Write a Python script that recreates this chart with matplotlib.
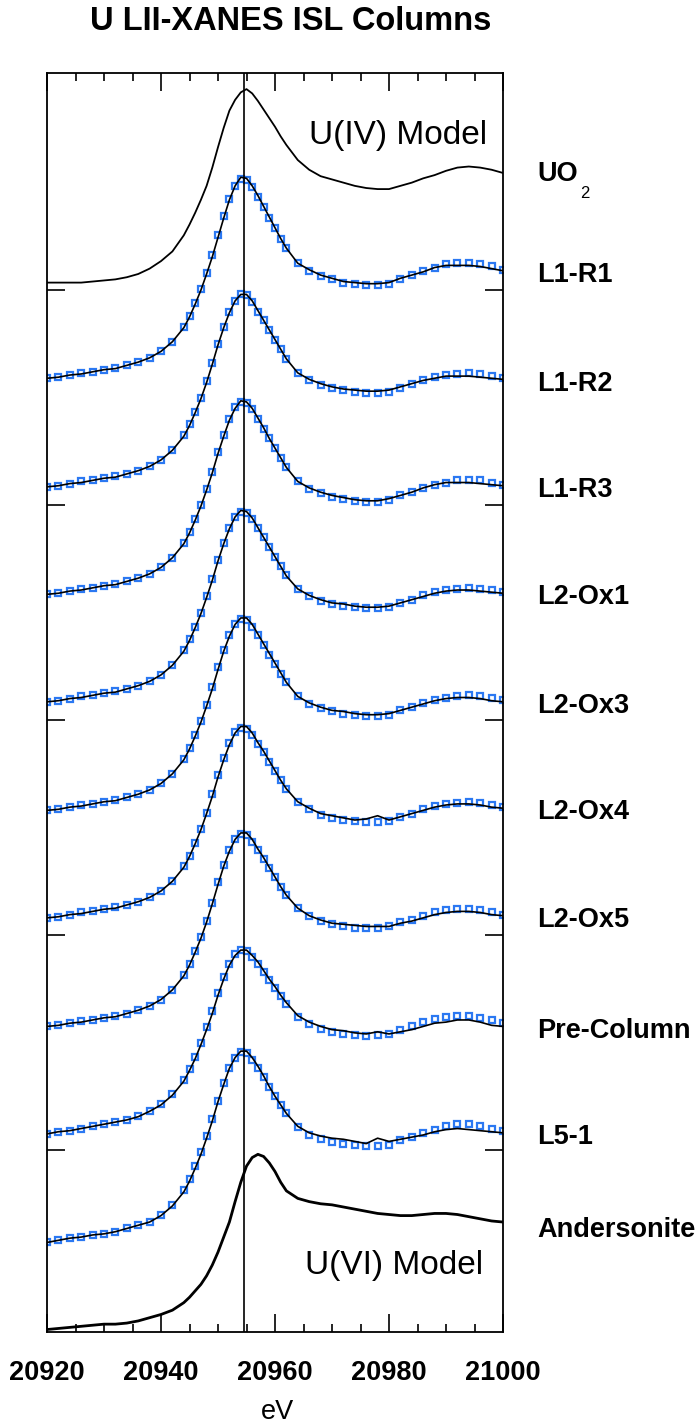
import numpy as np
import matplotlib
matplotlib.use('Agg')
import matplotlib.pyplot as plt
from matplotlib.ticker import MultipleLocator
from matplotlib.transforms import blended_transform_factory

plt.rcParams['font.family'] = ['Liberation Sans', 'DejaVu Sans']

# energy grid (eV)
E = [20920, 20922, 20924, 20926, 20928, 20930, 20932, 20934, 20936, 20938,
     20940, 20942, 20944, 20945, 20946, 20947, 20948, 20949, 20950, 20951,
     20952, 20953, 20954, 20955, 20956, 20957, 20958, 20959, 20960, 20961,
     20962, 20964, 20966, 20968, 20970, 20972, 20974, 20976, 20978, 20980,
     20982, 20984, 20986, 20988, 20990, 20992, 20994, 20996, 20998, 21000]

# reference spectra (normalised, pre-edge = 0)
uo2 = [0.00, 0.00, 0.00, 0.00, 0.01, 0.02, 0.03, 0.05, 0.08, 0.13,
       0.20, 0.29, 0.44, 0.54, 0.65, 0.77, 0.90, 1.07, 1.26, 1.44,
       1.60, 1.70, 1.77, 1.80, 1.76, 1.69, 1.61, 1.53, 1.45, 1.36,
       1.28, 1.14, 1.05, 0.99, 0.96, 0.93, 0.90, 0.88, 0.87, 0.87,
       0.90, 0.93, 0.97, 1.00, 1.04, 1.07, 1.08, 1.07, 1.05, 1.02]
andersonite = [0.00, 0.01, 0.02, 0.03, 0.04, 0.05, 0.05, 0.06, 0.08, 0.11,
               0.14, 0.18, 0.25, 0.30, 0.36, 0.42, 0.50, 0.60, 0.72, 0.86,
               1.00, 1.19, 1.37, 1.52, 1.60, 1.63, 1.61, 1.55, 1.47, 1.37,
               1.29, 1.22, 1.19, 1.17, 1.16, 1.14, 1.12, 1.10, 1.08, 1.07,
               1.06, 1.06, 1.07, 1.08, 1.08, 1.07, 1.05, 1.03, 1.01, 1.00]

samples = ['L1-R1', 'L1-R2', 'L1-R3', 'L2-Ox1', 'L2-Ox3', 'L2-Ox4',
           'L2-Ox5', 'Pre-Column', 'L5-1']

data = {
    'L1-R1': [0.00, 0.01, 0.03, 0.04, 0.06, 0.08, 0.09, 0.12, 0.15, 0.19,
              0.25, 0.34, 0.47, 0.57, 0.69, 0.82, 0.97, 1.13, 1.31, 1.49,
              1.66, 1.79, 1.87, 1.86, 1.79, 1.70, 1.60, 1.50, 1.40, 1.30,
              1.21, 1.07, 1.01, 0.96, 0.93, 0.90, 0.89, 0.88, 0.88, 0.89,
              0.93, 0.96, 0.99, 1.03, 1.05, 1.05, 1.05, 1.04, 1.02, 1.00],
    'L1-R2': [0.00, 0.01, 0.03, 0.04, 0.06, 0.08, 0.09, 0.12, 0.15, 0.19,
              0.25, 0.34, 0.47, 0.57, 0.69, 0.82, 0.97, 1.14, 1.32, 1.48,
              1.62, 1.73, 1.79, 1.79, 1.73, 1.64, 1.55, 1.46, 1.37, 1.28,
              1.19, 1.06, 1.00, 0.96, 0.93, 0.91, 0.90, 0.89, 0.89, 0.90,
              0.93, 0.96, 0.99, 1.01, 1.03, 1.03, 1.03, 1.02, 1.01, 1.00],
    'L1-R3': [0.00, 0.01, 0.03, 0.04, 0.06, 0.08, 0.09, 0.12, 0.15, 0.19,
              0.25, 0.34, 0.47, 0.57, 0.69, 0.82, 0.97, 1.13, 1.31, 1.47,
              1.62, 1.73, 1.80, 1.79, 1.73, 1.64, 1.55, 1.45, 1.36, 1.27,
              1.18, 1.05, 0.99, 0.95, 0.92, 0.90, 0.88, 0.87, 0.87, 0.89,
              0.92, 0.95, 0.99, 1.02, 1.04, 1.04, 1.04, 1.03, 1.02, 1.01],
    'L2-Ox1': [0.00, 0.01, 0.03, 0.04, 0.06, 0.08, 0.09, 0.12, 0.15, 0.19,
               0.25, 0.34, 0.47, 0.57, 0.69, 0.82, 0.97, 1.13, 1.31, 1.47,
               1.61, 1.72, 1.78, 1.77, 1.71, 1.62, 1.53, 1.44, 1.35, 1.26,
               1.17, 1.05, 0.99, 0.95, 0.92, 0.91, 0.89, 0.88, 0.88, 0.89,
               0.92, 0.95, 0.98, 1.01, 1.03, 1.04, 1.04, 1.03, 1.02, 1.01],
    'L2-Ox3': [0.00, 0.01, 0.03, 0.04, 0.06, 0.08, 0.09, 0.12, 0.15, 0.19,
               0.25, 0.34, 0.47, 0.57, 0.69, 0.82, 0.97, 1.13, 1.31, 1.48,
               1.62, 1.73, 1.79, 1.79, 1.73, 1.64, 1.55, 1.46, 1.37, 1.28,
               1.19, 1.06, 1.00, 0.96, 0.93, 0.92, 0.90, 0.89, 0.89, 0.90,
               0.93, 0.96, 0.99, 1.02, 1.04, 1.05, 1.05, 1.04, 1.02, 1.01],
    'L2-Ox4': [0.00, 0.01, 0.03, 0.04, 0.06, 0.08, 0.09, 0.12, 0.15, 0.19,
               0.25, 0.34, 0.47, 0.57, 0.69, 0.82, 0.97, 1.13, 1.31, 1.47,
               1.61, 1.72, 1.78, 1.78, 1.72, 1.63, 1.55, 1.46, 1.37, 1.28,
               1.20, 1.08, 1.02, 0.97, 0.95, 0.93, 0.91, 0.92, 0.95, 0.91,
               0.94, 0.97, 1.00, 1.03, 1.05, 1.06, 1.06, 1.05, 1.03, 1.02],
    'L2-Ox5': [0.00, 0.01, 0.03, 0.04, 0.06, 0.08, 0.09, 0.12, 0.15, 0.19,
               0.25, 0.34, 0.47, 0.57, 0.69, 0.82, 0.97, 1.14, 1.32, 1.49,
               1.63, 1.74, 1.80, 1.80, 1.74, 1.65, 1.57, 1.48, 1.39, 1.30,
               1.22, 1.10, 1.03, 0.99, 0.96, 0.95, 0.94, 0.93, 0.93, 0.93,
               0.96, 0.98, 1.01, 1.04, 1.06, 1.07, 1.07, 1.06, 1.04, 1.03],
    'Pre-Column': [0.00, 0.02, 0.03, 0.05, 0.07, 0.09, 0.11, 0.13, 0.16, 0.21,
                   0.27, 0.36, 0.49, 0.59, 0.70, 0.83, 0.97, 1.12, 1.29, 1.44,
                   1.57, 1.66, 1.71, 1.71, 1.66, 1.60, 1.52, 1.44, 1.37, 1.29,
                   1.22, 1.10, 1.04, 1.00, 0.97, 0.96, 0.94, 0.93, 0.95, 0.93,
                   0.95, 0.97, 1.00, 1.03, 1.04, 1.06, 1.06, 1.04, 1.01, 1.00],
    'L5-1': [0.00, 0.02, 0.04, 0.05, 0.07, 0.08, 0.10, 0.13, 0.16, 0.19,
             0.25, 0.34, 0.47, 0.57, 0.69, 0.82, 0.97, 1.13, 1.31, 1.47,
             1.62, 1.72, 1.78, 1.78, 1.72, 1.64, 1.55, 1.45, 1.36, 1.28,
             1.20, 1.08, 1.02, 0.99, 0.97, 0.96, 0.94, 0.92, 0.97, 0.94,
             0.96, 0.98, 1.00, 1.03, 1.05, 1.06, 1.05, 1.04, 1.03, 1.02],
}

# linear-combination fits
fits = {
    'L1-R1': [0.00, 0.01, 0.03, 0.05, 0.06, 0.08, 0.10, 0.12, 0.15, 0.19,
              0.25, 0.34, 0.48, 0.58, 0.70, 0.83, 0.98, 1.15, 1.33, 1.51,
              1.67, 1.79, 1.85, 1.84, 1.78, 1.69, 1.59, 1.49, 1.40, 1.30,
              1.21, 1.07, 1.00, 0.95, 0.92, 0.89, 0.88, 0.87, 0.87, 0.88,
              0.92, 0.96, 1.00, 1.03, 1.06, 1.07, 1.07, 1.06, 1.04, 1.01],
    'L1-R2': [0.00, 0.01, 0.03, 0.05, 0.06, 0.08, 0.10, 0.12, 0.15, 0.19,
              0.25, 0.34, 0.48, 0.58, 0.70, 0.83, 0.98, 1.15, 1.33, 1.49,
              1.63, 1.73, 1.79, 1.78, 1.72, 1.63, 1.55, 1.46, 1.37, 1.28,
              1.19, 1.06, 0.99, 0.95, 0.92, 0.90, 0.88, 0.87, 0.87, 0.88,
              0.92, 0.96, 0.99, 1.02, 1.04, 1.05, 1.06, 1.05, 1.03, 1.01],
    'L1-R3': [0.00, 0.01, 0.03, 0.05, 0.06, 0.08, 0.10, 0.12, 0.15, 0.19,
              0.25, 0.34, 0.48, 0.58, 0.70, 0.83, 0.98, 1.14, 1.32, 1.48,
              1.63, 1.74, 1.79, 1.78, 1.72, 1.63, 1.54, 1.45, 1.36, 1.27,
              1.18, 1.05, 0.98, 0.94, 0.91, 0.89, 0.87, 0.86, 0.86, 0.88,
              0.92, 0.95, 0.99, 1.02, 1.04, 1.06, 1.06, 1.06, 1.04, 1.02],
    'L2-Ox1': [0.00, 0.01, 0.03, 0.05, 0.06, 0.08, 0.10, 0.12, 0.15, 0.19,
               0.25, 0.34, 0.48, 0.58, 0.70, 0.83, 0.98, 1.14, 1.32, 1.48,
               1.62, 1.72, 1.77, 1.76, 1.70, 1.62, 1.53, 1.44, 1.35, 1.26,
               1.18, 1.05, 0.98, 0.94, 0.91, 0.89, 0.88, 0.87, 0.87, 0.88,
               0.92, 0.95, 0.99, 1.02, 1.04, 1.05, 1.06, 1.05, 1.04, 1.02],
    'L2-Ox3': [0.00, 0.01, 0.03, 0.05, 0.06, 0.08, 0.10, 0.12, 0.15, 0.19,
               0.25, 0.34, 0.48, 0.58, 0.70, 0.83, 0.98, 1.15, 1.33, 1.49,
               1.63, 1.73, 1.78, 1.77, 1.71, 1.63, 1.54, 1.45, 1.36, 1.27,
               1.19, 1.06, 0.99, 0.95, 0.92, 0.90, 0.89, 0.88, 0.88, 0.89,
               0.93, 0.96, 1.00, 1.03, 1.05, 1.06, 1.07, 1.06, 1.05, 1.03],
    'L2-Ox4': [0.00, 0.01, 0.03, 0.05, 0.06, 0.08, 0.10, 0.12, 0.15, 0.19,
               0.25, 0.34, 0.48, 0.58, 0.70, 0.83, 0.98, 1.15, 1.33, 1.49,
               1.63, 1.73, 1.77, 1.76, 1.70, 1.62, 1.54, 1.45, 1.37, 1.28,
               1.20, 1.08, 1.01, 0.96, 0.93, 0.91, 0.90, 0.89, 0.89, 0.90,
               0.94, 0.97, 1.01, 1.04, 1.06, 1.07, 1.08, 1.07, 1.05, 1.03],
    'L2-Ox5': [0.00, 0.01, 0.03, 0.05, 0.06, 0.08, 0.10, 0.12, 0.15, 0.19,
               0.25, 0.34, 0.48, 0.58, 0.70, 0.83, 0.98, 1.15, 1.34, 1.50,
               1.64, 1.74, 1.79, 1.78, 1.72, 1.64, 1.56, 1.47, 1.39, 1.30,
               1.22, 1.10, 1.03, 0.98, 0.95, 0.93, 0.92, 0.92, 0.92, 0.93,
               0.97, 0.99, 1.03, 1.06, 1.08, 1.09, 1.09, 1.08, 1.06, 1.04],
    'Pre-Column': [0.00, 0.02, 0.03, 0.05, 0.07, 0.09, 0.11, 0.13, 0.17, 0.21,
                   0.28, 0.37, 0.50, 0.60, 0.72, 0.85, 0.99, 1.14, 1.31, 1.46,
                   1.58, 1.67, 1.71, 1.70, 1.65, 1.58, 1.51, 1.43, 1.36, 1.28,
                   1.21, 1.09, 1.02, 0.98, 0.95, 0.93, 0.92, 0.91, 0.92, 0.93,
                   0.97, 1.00, 1.04, 1.07, 1.09, 1.10, 1.10, 1.08, 1.06, 1.03],
    'L5-1': [0.00, 0.02, 0.04, 0.05, 0.07, 0.08, 0.10, 0.13, 0.16, 0.19,
             0.26, 0.35, 0.49, 0.59, 0.71, 0.84, 0.99, 1.15, 1.32, 1.48,
             1.62, 1.72, 1.77, 1.76, 1.70, 1.62, 1.54, 1.45, 1.36, 1.28,
             1.20, 1.07, 1.00, 0.96, 0.93, 0.92, 0.91, 0.90, 0.90, 0.91,
             0.95, 0.98, 1.02, 1.05, 1.08, 1.10, 1.10, 1.08, 1.06, 1.04],
}

# vertical stacking offsets
offset_uo2 = 8.07
sample_offsets = [7.18, 6.17, 5.17, 4.17, 3.16, 2.16, 1.15, 0.15, -0.86]
offset_andersonite = -1.67

e_line = 20954.6
blue = '#2b78f2'

fig = plt.figure(figsize=(7, 14.25), dpi=100)
ax = fig.add_axes([47 / 700, 1 - 1332 / 1425, 456 / 700, (1332 - 73) / 1425])

E = np.array(E)
ax.plot(E, np.array(uo2) + offset_uo2, color='black', lw=1.3, zorder=3)
ax.plot(E, np.array(andersonite) + offset_andersonite, color='black', lw=2.0, zorder=3)

for name, off in zip(samples, sample_offsets):
    ax.plot(E, np.array(fits[name]) + off, ls='none', marker='s', ms=4.4,
            mfc='white', mec=blue, mew=1.6, zorder=2)
    ax.plot(E, np.array(data[name]) + off, color='black', lw=1.2, zorder=3)

ax.axvline(e_line, color='black', lw=1.2, zorder=4)

ax.set_xlim(20920, 21000)
ax.set_ylim(-1.693, 10.02)
ax.xaxis.set_major_locator(MultipleLocator(20))
ax.xaxis.set_minor_locator(MultipleLocator(5))
ax.set_yticks([0, 2, 4, 6, 8])
ax.set_yticklabels([])
ax.tick_params(which='both', direction='in', top=True, right=True, width=1.2)
ax.tick_params(which='major', length=13)
ax.tick_params(which='minor', length=6)
ax.tick_params(axis='x', which='major', pad=20, labelsize=19.5)
for lab in ax.get_xticklabels():
    lab.set_fontweight('bold')
for sp in ax.spines.values():
    sp.set_linewidth(1.3)

# curve labels at the right-hand side
trans = blended_transform_factory(ax.transAxes, ax.transData)
lx = (537 - 47) / 456
for name, off in zip(samples, sample_offsets):
    ax.annotate(name, xy=(lx, off + data[name][-1]), xycoords=trans,
                xytext=(0, -3), textcoords='offset points',
                ha='left', va='center', fontsize=19.5, fontweight='bold',
                annotation_clip=False)
ax.annotate('UO', xy=(lx, offset_uo2 + uo2[-1]), xycoords=trans,
            xytext=(0, -1), textcoords='offset points',
            ha='left', va='center', fontsize=19.5, fontweight='bold',
            annotation_clip=False)
ax.annotate('2', xy=(lx, offset_uo2 + uo2[-1]), xycoords=trans,
            xytext=(31, -15), textcoords='offset points',
            ha='left', va='center', fontsize=12, annotation_clip=False)
ax.annotate('Andersonite', xy=(lx, offset_andersonite + andersonite[-1]),
            xycoords=trans, xytext=(0, -6), textcoords='offset points',
            ha='left', va='center', fontsize=19.5, fontweight='bold',
            annotation_clip=False)

ax.text(20966.0, 9.44, 'U(IV) Model', ha='left', va='center', fontsize=24)
ax.text(20965.2, -1.07, 'U(VI) Model', ha='left', va='center', fontsize=24)

fig.text(291 / 700, 1 - 22 / 1425, 'U LII-XANES ISL Columns', ha='center',
         va='center', fontsize=23.5, fontweight='bold')
fig.text(278 / 700, 1 - 1412 / 1425, 'eV', ha='center', va='center', fontsize=19.5)

fig.savefig('out.png', dpi=100)
